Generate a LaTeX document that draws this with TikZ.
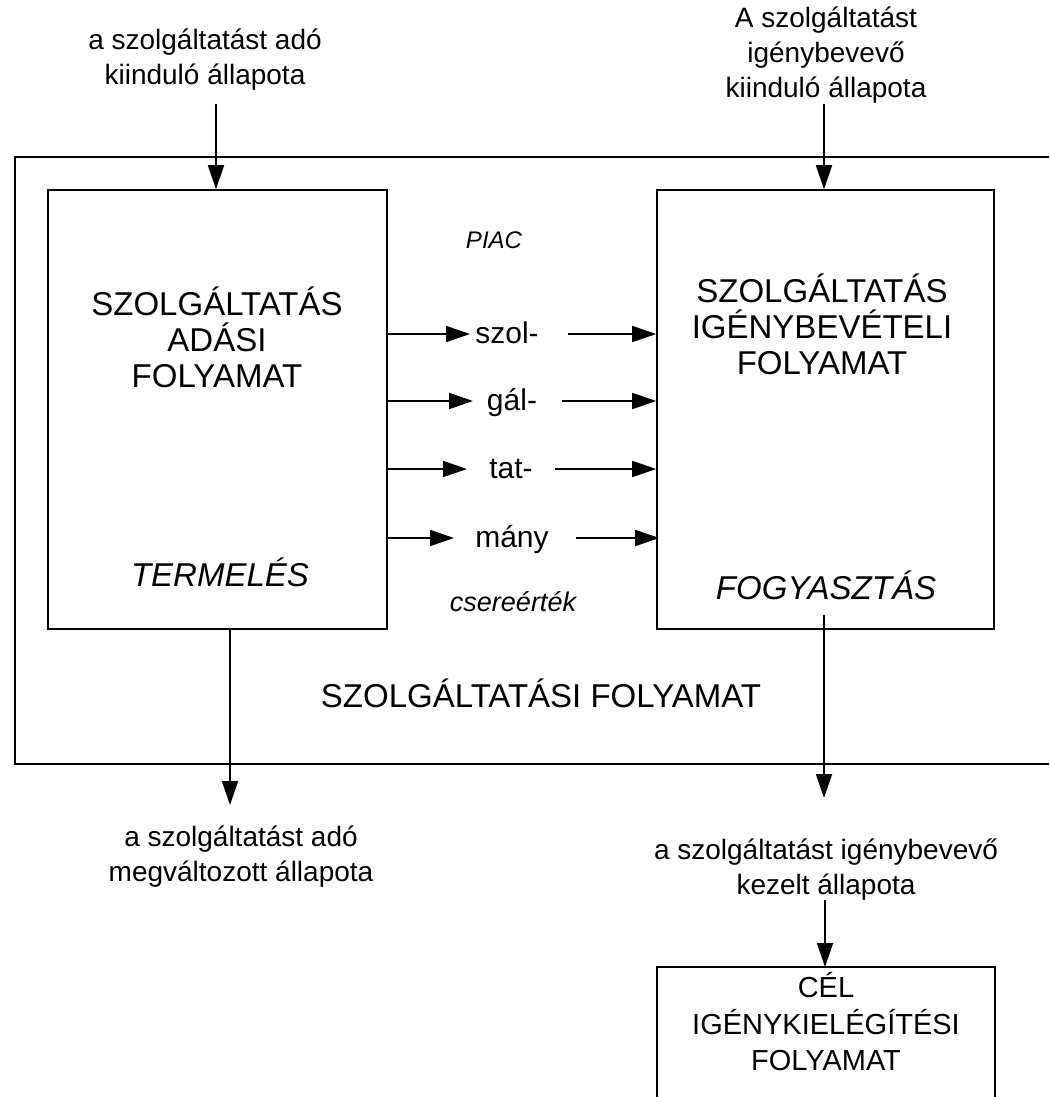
\documentclass[tikz,border=0pt]{standalone}
\usepackage{fontspec}
\setmainfont{Liberation Sans}
\usetikzlibrary{arrows.meta}
\begin{document}
\begin{tikzpicture}[x=1pt,y=-1pt,
  arr/.style={-{Triangle[length=24pt,width=16pt]}, line width=1.8pt},
  box/.style={draw, line width=1.6pt, inner sep=0pt},
  frame/.style={draw, line width=2.2pt},
  small/.style={font=\fontsize{28}{35}\selectfont, align=center, inner sep=0pt},
  big/.style={font=\fontsize{33}{36}\selectfont, align=center, inner sep=0pt},
  bigit/.style={font=\fontsize{33}{36}\selectfont\itshape, inner sep=0pt},
  smallit/.style={font=\fontsize{27}{33}\selectfont\itshape, inner sep=0pt},
  goaltext/.style={font=\fontsize{29}{36.5}\selectfont, align=center, inner sep=0pt},
  rowlbl/.style={font=\fontsize{30}{34}\selectfont, anchor=base, inner sep=0pt}]
\useasboundingbox (0,0) rectangle (1049,1097);

% outer frame (open to the right)
\coordinate (fTR) at (1049,157);
\coordinate (fTL) at (15,157);
\coordinate (fBL) at (15,764);
\coordinate (fBR) at (1049,764);
\draw[frame] (fTR) -- (fTL) -- (fBL) -- (fBR);

% process boxes
\node[box, minimum width=339pt, minimum height=439pt] (lbox) at (217.5,409.5) {};
\node[box, minimum width=337pt, minimum height=439pt] (rbox) at (825.5,409.5) {};

% texts in boxes
\node[big] (ltitle) at (217,337) {SZOLGÁLTATÁS\\ADÁSI\\FOLYAMAT};
\node[bigit] (term) at (220,572) {TERMELÉS};
\node[big] (rtitle) at (822,324) {SZOLGÁLTATÁS\\IGÉNYBEVÉTELI\\FOLYAMAT};
\node[bigit] (fogy) at (826,585) {FOGYASZTÁS};
\node[smallit, font=\fontsize{24}{30}\selectfont\itshape] (piac) at (494,240) {PIAC};
\node[smallit, font=\fontsize{27}{30}\selectfont\itshape] (csere) at (513,602) {csereérték};
\node[big] (szf) at (541,693) {SZOLGÁLTATÁSI FOLYAMAT};

% outside labels
\node[small] (tl) at (205,60) {a szolgáltatást adó\\kiinduló állapota};
\node[small] (tr) at (826,55) {A szolgáltatást\\igénybevevő\\kiinduló állapota};
\node[small] (bl) at (241,857) {a szolgáltatást adó\\megváltozott állapota};
\node[small] (br) at (826,870) {a szolgáltatást igénybevevő\\kezelt állapota};

% goal box (open at bottom)
\coordinate (gBL) at (657,1097);
\coordinate (gTL) at (657,967);
\coordinate (gTR) at (995,967);
\coordinate (gBR) at (995,1097);
\draw[box] (gBL) -- (gTL) -- (gTR) -- (gBR);
\node[goaltext] (goal) at (826,1022) {CÉL\\IGÉNYKIELÉGÍTÉSI\\FOLYAMAT};

% vertical arrows
\coordinate (a1) at (216,104);
\draw[arr] (a1) -- (a1 |- lbox.north);
\coordinate (a2) at (824,104);
\draw[arr] (a2) -- (a2 |- rbox.north);
\coordinate (d1) at (230,805);
\draw[arr] (d1 |- lbox.south) -- (d1);
\coordinate (d2s) at (824,615);
\coordinate (d2) at (824,798);
\draw[arr] (d2s) -- (d2);
\coordinate (g1) at (825,900);
\draw[arr] (g1) -- (g1 |- gTL);

% market row labels
\node[rowlbl] (r1) at (507,343) {szol-};
\node[rowlbl] (r2) at (512,410) {gál-};
\node[rowlbl] (r3) at (511,478) {tat-};
\node[rowlbl] (r4) at (512,547) {mány};

% market arrows
\coordinate (t1) at (470,334);
\coordinate (t2) at (473,401);
\coordinate (t3) at (467,469);
\coordinate (t4) at (454,538);
\draw[arr] (lbox.east |- t1) -- (t1);
\draw[arr] (lbox.east |- t2) -- (t2);
\draw[arr] (lbox.east |- t3) -- (t3);
\draw[arr] (lbox.east |- t4) -- (t4);
\coordinate (s1) at (568,334);
\coordinate (s2) at (562,401);
\coordinate (s3) at (555,469);
\coordinate (s4) at (573,538);
\draw[arr] (s1) -- (s1 -| rbox.west);
\draw[arr] (s2) -- (s2 -| rbox.west);
\draw[arr] (s3) -- (s3 -| rbox.west);
\draw[arr] ([xshift=3pt]s4) -- ([xshift=3pt]s4 -| rbox.west);
\end{tikzpicture}
\end{document}
